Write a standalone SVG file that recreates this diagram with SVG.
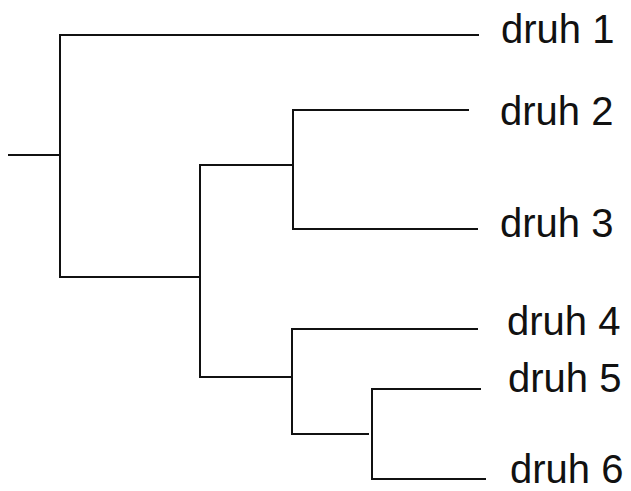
<svg xmlns="http://www.w3.org/2000/svg" width="631" height="491" viewBox="0 0 631 491">
<style>
.e{fill:none;stroke:#111;stroke-width:2;stroke-linecap:square}
.t{font-family:"Liberation Sans",Arial,sans-serif;font-size:40px;fill:#111}
</style>
<rect width="631" height="491" fill="#fff"/>
<g id="connectors">
<path class="e" d="M9,155H60"/>
<path class="e" d="M60,35V277"/>
<path class="e" d="M60,35H478"/>
<path class="e" d="M60,277H200"/>
<path class="e" d="M200,165V377"/>
<path class="e" d="M200,165H293"/>
<path class="e" d="M293,110V229"/>
<path class="e" d="M293,110H468"/>
<path class="e" d="M293,229H477"/>
<path class="e" d="M200,377H292"/>
<path class="e" d="M292,329V434"/>
<path class="e" d="M292,329H477"/>
<path class="e" d="M292,434H368"/>
<path class="e" d="M372,389V479"/>
<path class="e" d="M372,389H480"/>
<path class="e" d="M372,479H485"/>
</g>
<g id="druh1"><text class="t" x="501" y="43">druh 1</text></g>
<g id="druh2"><text class="t" x="500" y="125">druh 2</text></g>
<g id="druh3"><text class="t" x="500" y="237">druh 3</text></g>
<g id="druh4"><text class="t" x="507" y="335">druh 4</text></g>
<g id="druh5"><text class="t" x="508" y="392">druh 5</text></g>
<g id="druh6"><text class="t" x="510" y="483">druh 6</text></g>
</svg>
